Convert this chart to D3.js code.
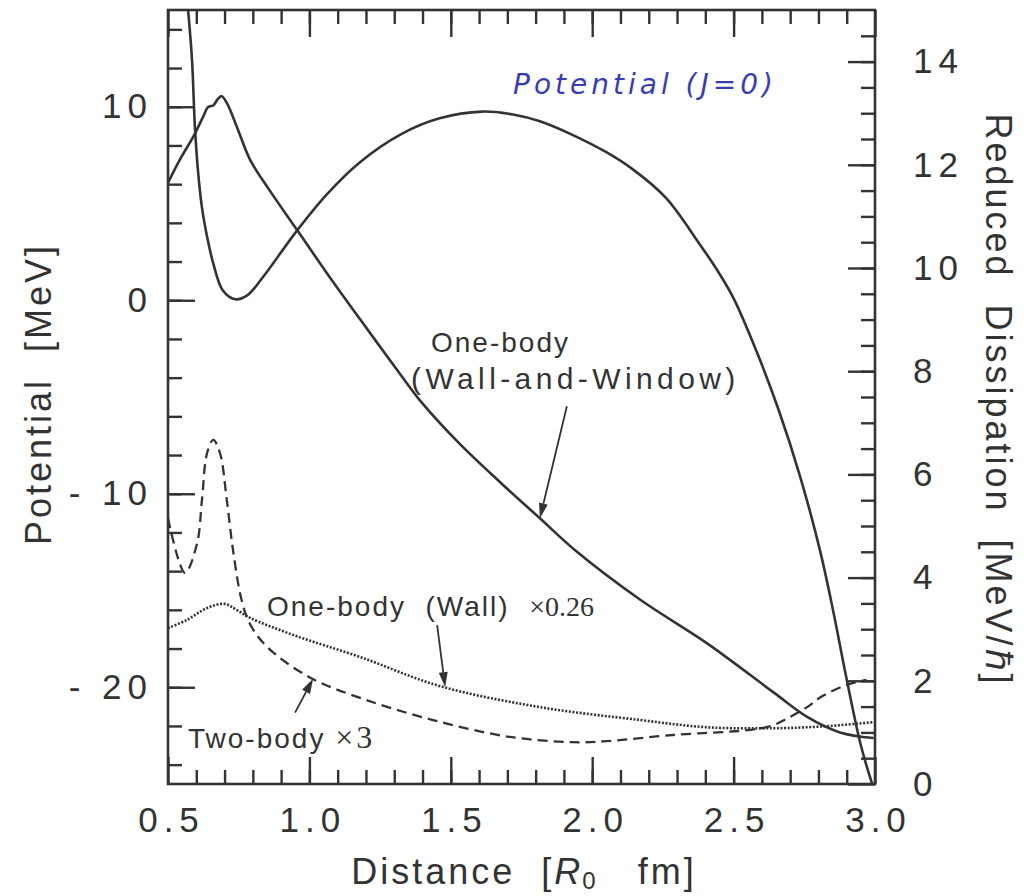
<!DOCTYPE html>
<html>
<head>
<meta charset="utf-8">
<script src="https://cdn.jsdelivr.net/npm/d3@7"></script>
<style>
  body { margin: 0; background: #ffffff; }
  svg { display: block; }
  text { font-family: "Liberation Sans", Arial, sans-serif; fill: #333; }
  .tick-label { font-size: 35px; letter-spacing: 6px; }
  .axis-title { font-size: 36px; letter-spacing: 3px; white-space: pre; }
  .note { font-size: 28px; letter-spacing: 2px; white-space: pre; }
  .note-serif { font-family: "Liberation Serif", "Times New Roman", serif; }
</style>
</head>
<body>
<svg id="chart" width="1035" height="896"></svg>
<script>
// axis ranges
const distanceDomain = [0.5, 3.0];
const potentialDomain = [-25, 15];
const dissipationDomain = [0, 15];

// tick values and labels
const distanceMajorTicks = [0.5, 1.0, 1.5, 2.0, 2.5, 3.0];
const distanceTickLabels = ["0.5", "1.0", "1.5", "2.0", "2.5", "3.0"];
const distanceMinorTicks = d3.range(6, 30).map((k) => k / 10);
const potentialMajorTicks = [-20, -10, 0, 10];
const potentialTickLabels = ["- 20", "- 10", "0", "10"];
const potentialMinorTicks = d3.range(-24, 15, 2);
const dissipationMajorTicks = [0, 2, 4, 6, 8, 10, 12, 14];
const dissipationTickLabels = ["0", "2", "4", "6", "8", "10", "12", "14"];
const dissipationMinorTicks = d3.range(1, 30).map((k) => k / 2);

// Potential (J=0), left axis [MeV]
const potentialX = [0.571, 0.585, 0.595, 0.606, 0.62, 0.638, 0.66, 0.694, 0.737, 0.78, 0.836, 0.956, 1.06, 1.18, 1.32, 1.46, 1.61, 1.72, 1.815, 1.93, 2.05, 2.145, 2.26, 2.38, 2.44, 2.5, 2.58, 2.66, 2.735, 2.805, 2.85, 2.9, 2.95, 2.99];
const potentialY = [15.0, 12.4, 9.0, 6.7, 4.8, 3.3, 1.9, 0.5, 0.05, 0.25, 1.2, 3.6, 5.45, 7.15, 8.55, 9.4, 9.75, 9.6, 9.25, 8.55, 7.65, 6.75, 5.3, 2.9, 1.6, 0.1, -2.6, -5.7, -9.1, -12.9, -15.9, -19.6, -23.0, -25.0];

// One-body (Wall-and-Window), right axis [MeV/hbar]
const wallWindowX = [0.5, 0.542, 0.59, 0.624, 0.642, 0.66, 0.677, 0.69, 0.708, 0.744, 0.79, 0.86, 0.956, 1.062, 1.18, 1.32, 1.39, 1.53, 1.68, 1.815, 1.946, 2.17, 2.405, 2.64, 2.76, 2.876, 2.995];
const wallWindowY = [11.65, 12.1, 12.55, 12.93, 13.12, 13.15, 13.28, 13.33, 13.2, 12.73, 12.1, 11.5, 10.74, 9.9, 9.0, 7.95, 7.44, 6.6, 5.82, 5.15, 4.5, 3.57, 2.73, 1.78, 1.3, 1.0, 0.89];

// One-body (Wall) x0.26, right axis
const wallX = [0.5, 0.567, 0.638, 0.7, 0.744, 0.79, 0.942, 1.18, 1.46, 1.815, 2.17, 2.405, 2.64, 2.76, 2.876, 2.995];
const wallY = [3.02, 3.18, 3.41, 3.49, 3.37, 3.22, 2.89, 2.46, 1.9, 1.49, 1.24, 1.1, 1.08, 1.1, 1.14, 1.2];

// Two-body x3, right axis
const twoBodyX = [0.5, 0.56, 0.603, 0.62, 0.638, 0.66, 0.684, 0.708, 0.73, 0.76, 0.79, 0.85, 1.0, 1.2, 1.437, 1.7, 1.93, 2.05, 2.285, 2.56, 2.64, 2.7, 2.76, 2.81, 2.9, 2.97];
const twoBodyY = [5.15, 4.09, 4.67, 5.5, 6.41, 6.67, 6.41, 5.5, 4.53, 3.57, 3.1, 2.66, 2.07, 1.63, 1.24, 0.92, 0.81, 0.83, 0.95, 1.05, 1.14, 1.3, 1.49, 1.69, 1.92, 2.02];

(function drawChart() {
  const svg = d3.select("#chart");
  const ink = "#333";

  const frame = { left: 168, top: 10, right: 875, bottom: 784 };
  const innerWidth = frame.right - frame.left;
  const innerHeight = frame.bottom - frame.top;
  const majorLen = 27;
  const minorLen = 14;

  const g = svg.append("g").attr("transform", `translate(${frame.left},${frame.top})`);

  const x = d3.scaleLinear().domain(distanceDomain).range([0, innerWidth]);
  const yLeft = d3.scaleLinear().domain(potentialDomain).range([innerHeight, 0]);
  const yRight = d3.scaleLinear().domain(dissipationDomain).range([innerHeight, 0]);

  g.append("clipPath")
    .attr("id", "plot-clip")
    .append("rect")
    .attr("width", innerWidth)
    .attr("height", innerHeight);

  function addAxis(axis, transform, withLabels) {
    const sel = g.append("g").attr("transform", transform).call(axis);
    sel.select(".domain").remove();
    sel.selectAll(".tick line").attr("stroke", ink).attr("stroke-width", 2.4);
    if (!withLabels) {
      sel.selectAll(".tick text").remove();
    } else {
      sel.selectAll(".tick text")
        .attr("class", "tick-label")
        .attr("fill", ink)
        .attr("font-family", null)
        .attr("font-size", null);
    }
    return sel;
  }

  // bottom axis
  const bottomLabels = addAxis(
    d3.axisBottom(x).tickValues(distanceMajorTicks).tickSize(-majorLen).tickSizeOuter(0).tickPadding(23)
      .tickFormat((d, i) => distanceTickLabels[i]),
    `translate(0,${innerHeight})`, true);
  bottomLabels.selectAll(".tick text").attr("dx", 3);
  addAxis(d3.axisBottom(x).tickValues(distanceMinorTicks).tickSize(-minorLen).tickSizeOuter(0),
    `translate(0,${innerHeight})`, false);

  // top axis (ticks only)
  addAxis(d3.axisTop(x).tickValues(distanceMajorTicks).tickSize(-majorLen).tickSizeOuter(0), "translate(0,0)", false);
  addAxis(d3.axisTop(x).tickValues(distanceMinorTicks).tickSize(-minorLen).tickSizeOuter(0), "translate(0,0)", false);

  // left axis: potential
  addAxis(
    d3.axisLeft(yLeft).tickValues(potentialMajorTicks).tickSize(-majorLen).tickSizeOuter(0).tickPadding(15)
      .tickFormat((d, i) => potentialTickLabels[i]),
    "translate(0,0)", true);
  addAxis(d3.axisLeft(yLeft).tickValues(potentialMinorTicks).tickSize(-minorLen).tickSizeOuter(0), "translate(0,0)", false);

  // right axis: reduced dissipation
  addAxis(
    d3.axisRight(yRight).tickValues(dissipationMajorTicks).tickSize(-majorLen).tickSizeOuter(0).tickPadding(38)
      .tickFormat((d, i) => dissipationTickLabels[i]),
    `translate(${innerWidth},0)`, true);
  addAxis(d3.axisRight(yRight).tickValues(dissipationMinorTicks).tickSize(-minorLen).tickSizeOuter(0),
    `translate(${innerWidth},0)`, false);

  // curves
  const curves = g.append("g").attr("clip-path", "url(#plot-clip)");

  function series(xs, ys) {
    return xs.map((v, i) => ({ x: v, y: ys[i] }));
  }

  const lineLeft = d3.line().x((d) => x(d.x)).y((d) => yLeft(d.y)).curve(d3.curveCatmullRom.alpha(0.5));
  const lineRight = d3.line().x((d) => x(d.x)).y((d) => yRight(d.y)).curve(d3.curveCatmullRom.alpha(0.5));

  curves.append("path")
    .datum(series(potentialX, potentialY))
    .attr("d", lineLeft)
    .attr("fill", "none")
    .attr("stroke", ink)
    .attr("stroke-width", 2.6);

  curves.append("path")
    .datum(series(wallWindowX, wallWindowY))
    .attr("d", lineRight)
    .attr("fill", "none")
    .attr("stroke", ink)
    .attr("stroke-width", 2.6);

  curves.append("path")
    .datum(series(wallX, wallY))
    .attr("d", lineRight)
    .attr("fill", "none")
    .attr("stroke", ink)
    .attr("stroke-width", 2.6)
    .attr("stroke-dasharray", "2 1.6");

  curves.append("path")
    .datum(series(twoBodyX, twoBodyY))
    .attr("d", lineRight)
    .attr("fill", "none")
    .attr("stroke", ink)
    .attr("stroke-width", 2.3)
    .attr("stroke-dasharray", "10 6");

  // frame
  g.append("rect")
    .attr("width", innerWidth)
    .attr("height", innerHeight)
    .attr("fill", "none")
    .attr("stroke", ink)
    .attr("stroke-width", 2.6);

  // arrows pointing at the curves
  function interp(xs, ys, xv) {
    return d3.scaleLinear().domain(xs).range(ys)(xv);
  }

  function arrow(tipX, tipY, dx, dy) {
    const tx = tipX + dx;
    const ty = tipY + dy;
    const ang = Math.atan2(tipY - ty, tipX - tx);
    const len = 15;
    const half = 4.5;
    const bx = tipX - len * Math.cos(ang);
    const by = tipY - len * Math.sin(ang);
    g.append("line")
      .attr("x1", tx).attr("y1", ty).attr("x2", bx).attr("y2", by)
      .attr("stroke", ink).attr("stroke-width", 1.8);
    g.append("path")
      .attr("d", `M${tipX},${tipY}L${bx - half * Math.sin(ang)},${by + half * Math.cos(ang)}L${bx + half * Math.sin(ang)},${by - half * Math.cos(ang)}Z`)
      .attr("fill", ink);
  }

  arrow(x(1.815), yRight(interp(wallWindowX, wallWindowY, 1.815)), 27, -112);
  arrow(x(1.48), yRight(interp(wallX, wallY, 1.48)), -8, -62);
  arrow(x(1.013), yRight(interp(twoBodyX, twoBodyY, 1.013)), -18, 34);

  // annotations (page coordinates)
  svg.append("text").attr("class", "note").attr("x", 431).attr("y", 352).text("One-body");
  svg.append("text").attr("class", "note").attr("x", 411).attr("y", 389)
    .style("font-size", "30px").style("letter-spacing", "4.4px").text("(Wall-and-Window)");

  const wallNote = svg.append("text").attr("class", "note").attr("x", 267).attr("y", 616);
  wallNote.append("tspan").text("One-body  (Wall)  ");
  wallNote.append("tspan").attr("class", "note-serif").style("letter-spacing", "0px").text("×0.26");

  const twoNote = svg.append("text").attr("class", "note").attr("x", 188).attr("y", 748);
  twoNote.append("tspan").text("Two-body ");
  twoNote.append("tspan").attr("class", "note-serif").style("font-size", "32px").style("letter-spacing", "3px").text("×3");

  svg.append("text")
    .attr("x", 513)
    .attr("y", 94)
    .style("font-family", "'DejaVu Sans', sans-serif")
    .style("font-style", "italic")
    .style("font-size", "28px")
    .style("letter-spacing", "4px")
    .style("fill", "#3b3cb4")
    .text("Potential (J=0)");

  // axis titles
  svg.append("text")
    .attr("class", "axis-title")
    .attr("text-anchor", "middle")
    .attr("transform", "translate(51,394) rotate(-90)")
    .text("Potential  [MeV]");

  svg.append("text")
    .attr("class", "axis-title")
    .attr("text-anchor", "middle")
    .attr("transform", "translate(986,400) rotate(90)")
    .text("Reduced  Dissipation  [MeV/ℏ]");

  const xTitle = svg.append("text")
    .attr("class", "axis-title")
    .attr("text-anchor", "middle")
    .attr("x", 524)
    .attr("y", 884);
  xTitle.append("tspan").text("Distance  [");
  xTitle.append("tspan").style("font-style", "italic").text("R");
  xTitle.append("tspan").style("font-size", "24px").attr("dx", -1).attr("dy", 5).text("0");
  xTitle.append("tspan").attr("dy", -5).text("   fm]");
})();
</script>
</body>
</html>
